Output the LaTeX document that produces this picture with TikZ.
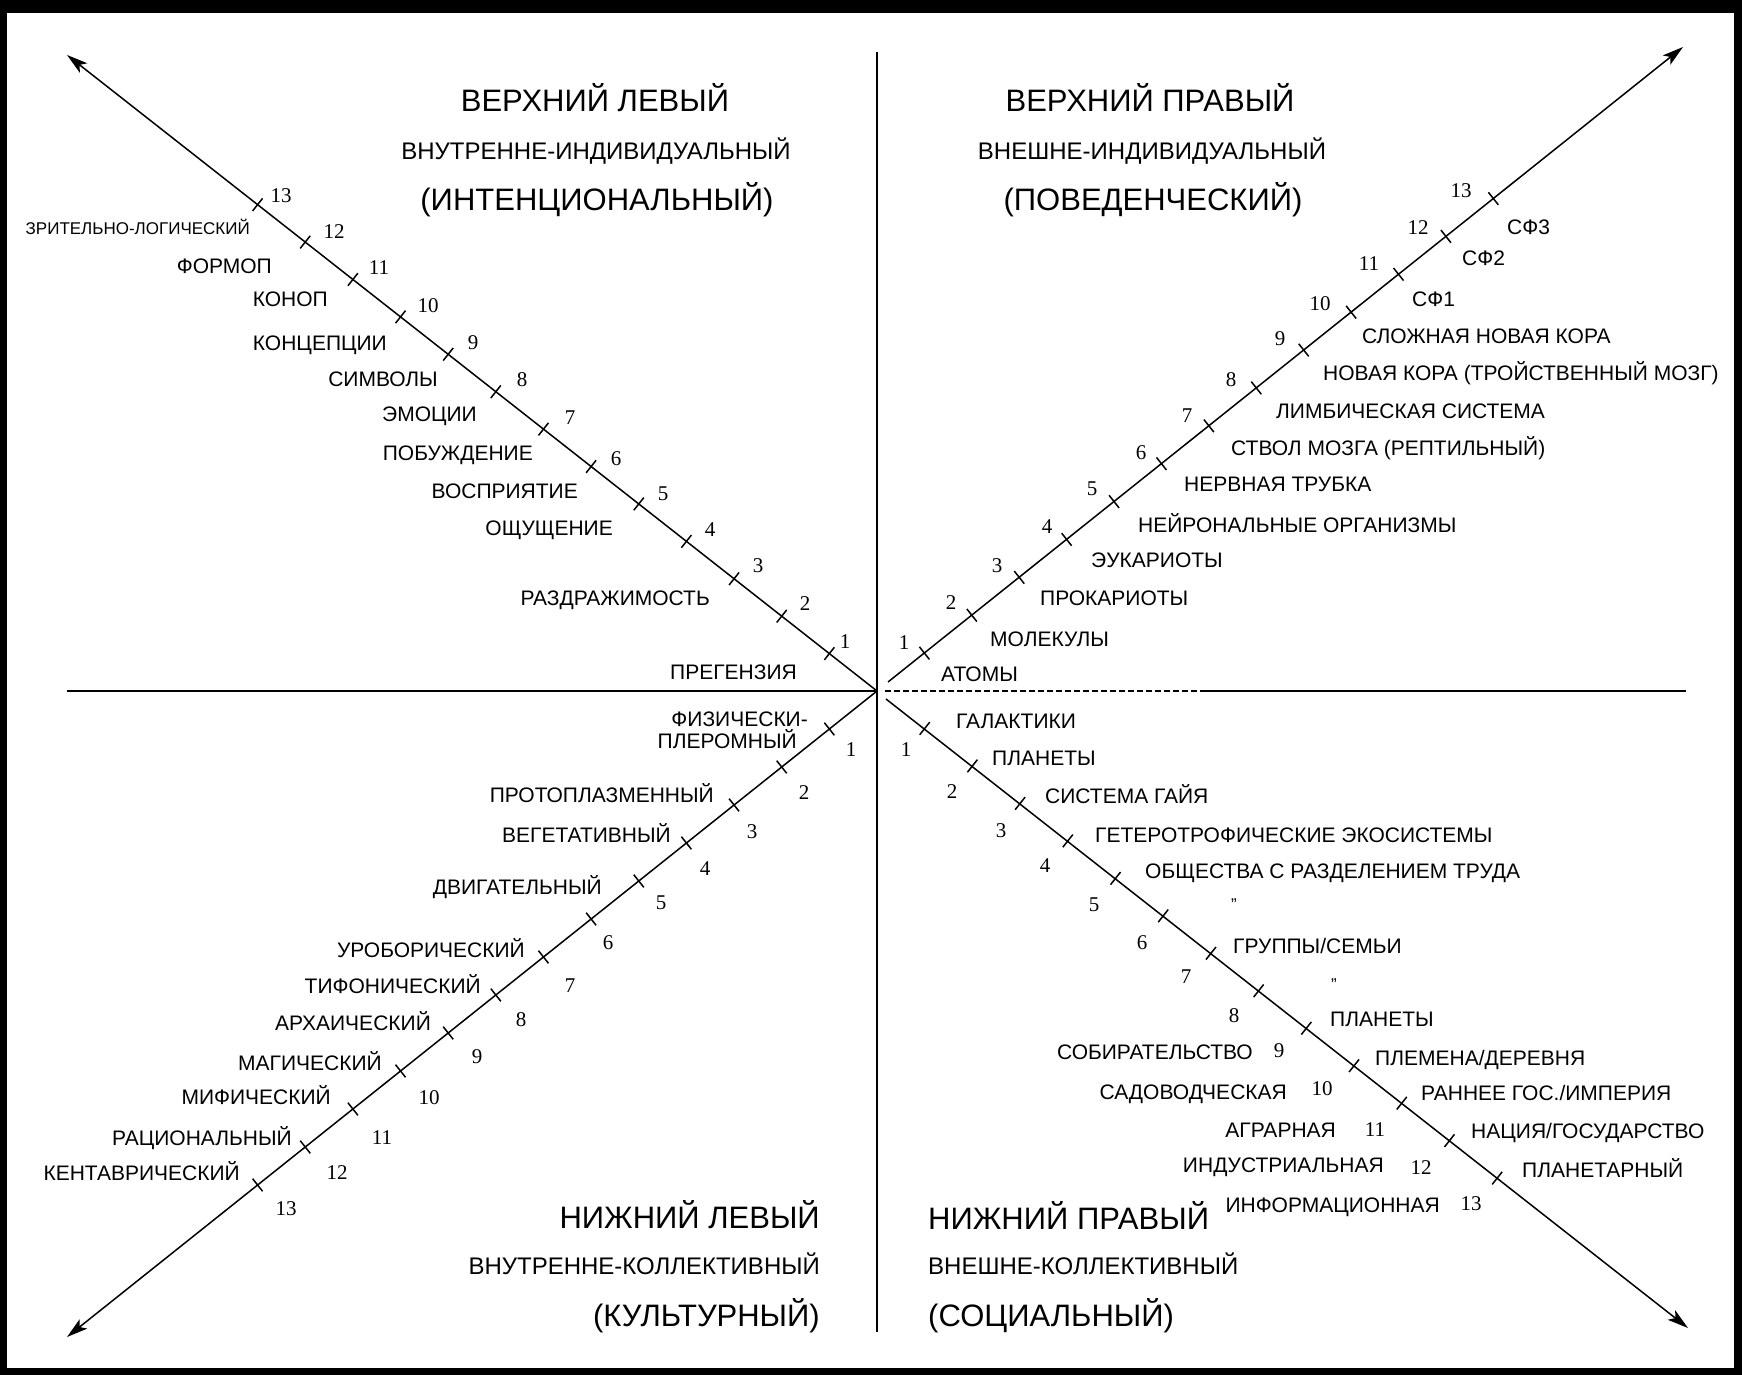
\documentclass[tikz,border=0pt]{standalone}
\usepackage{fontspec}
\setmainfont{Liberation Sans}
\newfontfamily\numfont{Liberation Serif}
\usetikzlibrary{arrows.meta,calc}

\begin{document}
\begin{tikzpicture}[x=1pt,y=1pt,yscale=-1,xscale=1,
    lbl/.style={font=\fontsize{21}{24}\selectfont, inner sep=0pt, text height=15pt, text depth=0pt},
    small/.style={font=\fontsize{17}{20}\selectfont, inner sep=0pt, text height=12pt, text depth=0pt},
    num/.style={font=\numfont\fontsize{21}{24}\selectfont, inner sep=0pt, text height=14pt, text depth=0pt},
    head/.style={font=\fontsize{31}{36}\selectfont, inner sep=0pt, text height=22pt, text depth=0pt},
    subhead/.style={font=\fontsize{24}{28}\selectfont, inner sep=0pt, text height=17pt, text depth=0pt},
    axis/.style={line width=1.8pt},
    diag/.style={line width=1.5pt, -{Stealth[length=21pt,width=12pt,inset=5pt]}},
    tick/.style={line width=1.5pt}]
    \useasboundingbox (0,0) rectangle (1742,1375);

    %Frame
    \fill [black] (0,0) rectangle (1742,1375);
    \fill [white] (7,13) rectangle (1734,1368);

    %Axis points
    \coordinate (o) at (877,691);
    \coordinate (ul) at (67,55);
    \coordinate (ur) at (1683,47);
    \coordinate (ll) at (67,1337);
    \coordinate (lr) at (1688,1328);
    \coordinate (urs) at (888,682);
    \coordinate (lrs) at (886,699);
    \coordinate (vt) at (877,52);
    \coordinate (vb) at (877,1332);
    \coordinate (hl) at (67,691);
    \coordinate (hs) at (885,691);
    \coordinate (hm) at (1205,691);
    \coordinate (hr) at (1686,691);

    %Straight Lines (vertical axis)
    \draw [axis] (vt) -- (vb);
    %Straight Lines (horizontal axis)
    \draw [axis] (hl) -- (o);
    \draw [axis, dash pattern=on 6pt off 3pt] (hs) -- (hm);
    \draw [axis] (hm) -- (hr);
    %Straight Lines (diagonals)
    \draw [diag] (o) -- (ul);
    \draw [diag] (urs) -- (ur);
    \draw [diag] (o) -- (ll);
    \draw [diag] (lrs) -- (lr);

    %Ticks upper left
    \draw [tick] ($(o)!1/17!(ul)$) ++(-5,6.3) -- ++(10,-12.6);
    \draw [tick] ($(o)!2/17!(ul)$) ++(-5,6.3) -- ++(10,-12.6);
    \draw [tick] ($(o)!3/17!(ul)$) ++(-5,6.3) -- ++(10,-12.6);
    \draw [tick] ($(o)!4/17!(ul)$) ++(-5,6.3) -- ++(10,-12.6);
    \draw [tick] ($(o)!5/17!(ul)$) ++(-5,6.3) -- ++(10,-12.6);
    \draw [tick] ($(o)!6/17!(ul)$) ++(-5,6.3) -- ++(10,-12.6);
    \draw [tick] ($(o)!7/17!(ul)$) ++(-5,6.3) -- ++(10,-12.6);
    \draw [tick] ($(o)!8/17!(ul)$) ++(-5,6.3) -- ++(10,-12.6);
    \draw [tick] ($(o)!9/17!(ul)$) ++(-5,6.3) -- ++(10,-12.6);
    \draw [tick] ($(o)!10/17!(ul)$) ++(-5,6.3) -- ++(10,-12.6);
    \draw [tick] ($(o)!11/17!(ul)$) ++(-5,6.3) -- ++(10,-12.6);
    \draw [tick] ($(o)!12/17!(ul)$) ++(-5,6.3) -- ++(10,-12.6);
    \draw [tick] ($(o)!13/17!(ul)$) ++(-5,6.3) -- ++(10,-12.6);
    %Ticks upper right
    \draw [tick] ($(o)!1/17!(ur)$) ++(-5,-6.3) -- ++(10,12.6);
    \draw [tick] ($(o)!2/17!(ur)$) ++(-5,-6.3) -- ++(10,12.6);
    \draw [tick] ($(o)!3/17!(ur)$) ++(-5,-6.3) -- ++(10,12.6);
    \draw [tick] ($(o)!4/17!(ur)$) ++(-5,-6.3) -- ++(10,12.6);
    \draw [tick] ($(o)!5/17!(ur)$) ++(-5,-6.3) -- ++(10,12.6);
    \draw [tick] ($(o)!6/17!(ur)$) ++(-5,-6.3) -- ++(10,12.6);
    \draw [tick] ($(o)!7/17!(ur)$) ++(-5,-6.3) -- ++(10,12.6);
    \draw [tick] ($(o)!8/17!(ur)$) ++(-5,-6.3) -- ++(10,12.6);
    \draw [tick] ($(o)!9/17!(ur)$) ++(-5,-6.3) -- ++(10,12.6);
    \draw [tick] ($(o)!10/17!(ur)$) ++(-5,-6.3) -- ++(10,12.6);
    \draw [tick] ($(o)!11/17!(ur)$) ++(-5,-6.3) -- ++(10,12.6);
    \draw [tick] ($(o)!12/17!(ur)$) ++(-5,-6.3) -- ++(10,12.6);
    \draw [tick] ($(o)!13/17!(ur)$) ++(-5,-6.3) -- ++(10,12.6);
    %Ticks lower left
    \draw [tick] ($(o)!1/17!(ll)$) ++(-5,-6.3) -- ++(10,12.6);
    \draw [tick] ($(o)!2/17!(ll)$) ++(-5,-6.3) -- ++(10,12.6);
    \draw [tick] ($(o)!3/17!(ll)$) ++(-5,-6.3) -- ++(10,12.6);
    \draw [tick] ($(o)!4/17!(ll)$) ++(-5,-6.3) -- ++(10,12.6);
    \draw [tick] ($(o)!5/17!(ll)$) ++(-5,-6.3) -- ++(10,12.6);
    \draw [tick] ($(o)!6/17!(ll)$) ++(-5,-6.3) -- ++(10,12.6);
    \draw [tick] ($(o)!7/17!(ll)$) ++(-5,-6.3) -- ++(10,12.6);
    \draw [tick] ($(o)!8/17!(ll)$) ++(-5,-6.3) -- ++(10,12.6);
    \draw [tick] ($(o)!9/17!(ll)$) ++(-5,-6.3) -- ++(10,12.6);
    \draw [tick] ($(o)!10/17!(ll)$) ++(-5,-6.3) -- ++(10,12.6);
    \draw [tick] ($(o)!11/17!(ll)$) ++(-5,-6.3) -- ++(10,12.6);
    \draw [tick] ($(o)!12/17!(ll)$) ++(-5,-6.3) -- ++(10,12.6);
    \draw [tick] ($(o)!13/17!(ll)$) ++(-5,-6.3) -- ++(10,12.6);
    %Ticks lower right
    \draw [tick] ($(o)!1/17!(lr)$) ++(-5,6.3) -- ++(10,-12.6);
    \draw [tick] ($(o)!2/17!(lr)$) ++(-5,6.3) -- ++(10,-12.6);
    \draw [tick] ($(o)!3/17!(lr)$) ++(-5,6.3) -- ++(10,-12.6);
    \draw [tick] ($(o)!4/17!(lr)$) ++(-5,6.3) -- ++(10,-12.6);
    \draw [tick] ($(o)!5/17!(lr)$) ++(-5,6.3) -- ++(10,-12.6);
    \draw [tick] ($(o)!6/17!(lr)$) ++(-5,6.3) -- ++(10,-12.6);
    \draw [tick] ($(o)!7/17!(lr)$) ++(-5,6.3) -- ++(10,-12.6);
    \draw [tick] ($(o)!8/17!(lr)$) ++(-5,6.3) -- ++(10,-12.6);
    \draw [tick] ($(o)!9/17!(lr)$) ++(-5,6.3) -- ++(10,-12.6);
    \draw [tick] ($(o)!10/17!(lr)$) ++(-5,6.3) -- ++(10,-12.6);
    \draw [tick] ($(o)!11/17!(lr)$) ++(-5,6.3) -- ++(10,-12.6);
    \draw [tick] ($(o)!12/17!(lr)$) ++(-5,6.3) -- ++(10,-12.6);
    \draw [tick] ($(o)!13/17!(lr)$) ++(-5,6.3) -- ++(10,-12.6);

    % Text Node (headers)
    \draw (595,101) node [head] (ulHead) {ВЕРХНИЙ ЛЕВЫЙ};
    \draw (596,151) node [subhead] (ulSub) {ВНУТРЕННЕ-ИНДИВИДУАЛЬНЫЙ};
    \draw (597,200) node [head] (ulPar) {(ИНТЕНЦИОНАЛЬНЫЙ)};
    \draw (1150,101) node [head] (urHead) {ВЕРХНИЙ ПРАВЫЙ};
    \draw (1152,151) node [subhead] (urSub) {ВНЕШНЕ-ИНДИВИДУАЛЬНЫЙ};
    \draw (1153,200) node [head] (urPar) {(ПОВЕДЕНЧЕСКИЙ)};
    \draw (820,1217) node [head, anchor=east] (llHead) {НИЖНИЙ ЛЕВЫЙ};
    \draw (820,1266) node [subhead, anchor=east] (llSub) {ВНУТРЕННЕ-КОЛЛЕКТИВНЫЙ};
    \draw (820,1315) node [head, anchor=east] (llPar) {(КУЛЬТУРНЫЙ)};
    \draw (928,1218) node [head, anchor=west] (lrHead) {НИЖНИЙ ПРАВЫЙ};
    \draw (928,1266) node [subhead, anchor=west] (lrSub) {ВНЕШНЕ-КОЛЛЕКТИВНЫЙ};
    \draw (928,1315) node [head, anchor=west] (lrPar) {(СОЦИАЛЬНЫЙ)};

    % Text Node (upper left levels)
    \draw (797,672) node [lbl, anchor=east] (ul1t) {ПРЕГЕНЗИЯ};
    \draw (710,598) node [lbl, anchor=east] (ul2t) {РАЗДРАЖИМОСТЬ};
    \draw (613,528) node [lbl, anchor=east] (ul4t) {ОЩУЩЕНИЕ};
    \draw (578,491) node [lbl, anchor=east] (ul5t) {ВОСПРИЯТИЕ};
    \draw (533,453) node [lbl, anchor=east] (ul6t) {ПОБУЖДЕНИЕ};
    \draw (477,414) node [lbl, anchor=east] (ul7t) {ЭМОЦИИ};
    \draw (438,379) node [lbl, anchor=east] (ul8t) {СИМВОЛЫ};
    \draw (387,343) node [lbl, anchor=east] (ul9t) {КОНЦЕПЦИИ};
    \draw (328,299) node [lbl, anchor=east] (ul10t) {КОНОП};
    \draw (272,266) node [lbl, anchor=east] (ul11t) {ФОРМОП};
    \draw (250,228) node [small, anchor=east] (ul12t) {ЗРИТЕЛЬНО-ЛОГИЧЕСКИЙ};
    % Text Node (upper left numbers)
    \draw (845,641) node [num] (ul1n) {1};
    \draw (805,603) node [num] (ul2n) {2};
    \draw (758,565) node [num] (ul3n) {3};
    \draw (710,529) node [num] (ul4n) {4};
    \draw (663,493) node [num] (ul5n) {5};
    \draw (616,458) node [num] (ul6n) {6};
    \draw (570,417) node [num] (ul7n) {7};
    \draw (522,379) node [num] (ul8n) {8};
    \draw (473,342) node [num] (ul9n) {9};
    \draw (428,305) node [num] (ul10n) {10};
    \draw (379,267) node [num] (ul11n) {11};
    \draw (334,231) node [num] (ul12n) {12};
    \draw (281,196) node [num] (ul13n) {13};

    % Text Node (upper right levels)
    \draw (941,674) node [lbl, anchor=west] (ur1t) {АТОМЫ};
    \draw (990,639) node [lbl, anchor=west] (ur2t) {МОЛЕКУЛЫ};
    \draw (1040,598) node [lbl, anchor=west] (ur3t) {ПРОКАРИОТЫ};
    \draw (1091,560) node [lbl, anchor=west] (ur4t) {ЭУКАРИОТЫ};
    \draw (1138,525) node [lbl, anchor=west] (ur5t) {НЕЙРОНАЛЬНЫЕ ОРГАНИЗМЫ};
    \draw (1184,484) node [lbl, anchor=west] (ur6t) {НЕРВНАЯ ТРУБКА};
    \draw (1231,448) node [lbl, anchor=west] (ur7t) {СТВОЛ МОЗГА (РЕПТИЛЬНЫЙ)};
    \draw (1276,411) node [lbl, anchor=west] (ur8t) {ЛИМБИЧЕСКАЯ СИСТЕМА};
    \draw (1323,373) node [lbl, anchor=west] (ur9t) {НОВАЯ КОРА (ТРОЙСТВЕННЫЙ МОЗГ)};
    \draw (1362,336) node [lbl, anchor=west] (ur10t) {СЛОЖНАЯ НОВАЯ КОРА};
    \draw (1412,299) node [lbl, anchor=west] (ur11t) {СФ1};
    \draw (1462,258) node [lbl, anchor=west] (ur12t) {СФ2};
    \draw (1507,227) node [lbl, anchor=west] (ur13t) {СФ3};
    % Text Node (upper right numbers)
    \draw (904,642) node [num] (ur1n) {1};
    \draw (951,602) node [num] (ur2n) {2};
    \draw (997,565) node [num] (ur3n) {3};
    \draw (1047,526) node [num] (ur4n) {4};
    \draw (1092,488) node [num] (ur5n) {5};
    \draw (1141,452) node [num] (ur6n) {6};
    \draw (1187,415) node [num] (ur7n) {7};
    \draw (1231,379) node [num] (ur8n) {8};
    \draw (1280,338) node [num] (ur9n) {9};
    \draw (1320,303) node [num] (ur10n) {10};
    \draw (1369,263) node [num] (ur11n) {11};
    \draw (1418,227) node [num] (ur12n) {12};
    \draw (1461,190) node [num] (ur13n) {13};

    % Text Node (lower left levels)
    \draw (808,719) node [lbl, anchor=east] (ll1t) {ФИЗИЧЕСКИ-};
    \draw (797,741) node [lbl, anchor=east] (ll1u) {ПЛЕРОМНЫЙ};
    \draw (714,795) node [lbl, anchor=east] (ll2t) {ПРОТОПЛАЗМЕННЫЙ};
    \draw (671,835) node [lbl, anchor=east] (ll3t) {ВЕГЕТАТИВНЫЙ};
    \draw (602,887) node [lbl, anchor=east] (ll5t) {ДВИГАТЕЛЬНЫЙ};
    \draw (525,950) node [lbl, anchor=east] (ll7t) {УРОБОРИЧЕСКИЙ};
    \draw (481,986) node [lbl, anchor=east] (ll8t) {ТИФОНИЧЕСКИЙ};
    \draw (431,1023) node [lbl, anchor=east] (ll9t) {АРХАИЧЕСКИЙ};
    \draw (382,1063) node [lbl, anchor=east] (ll10t) {МАГИЧЕСКИЙ};
    \draw (331,1097) node [lbl, anchor=east] (ll11t) {МИФИЧЕСКИЙ};
    \draw (292,1138) node [lbl, anchor=east] (ll12t) {РАЦИОНАЛЬНЫЙ};
    \draw (240,1173) node [lbl, anchor=east] (ll13t) {КЕНТАВРИЧЕСКИЙ};
    % Text Node (lower left numbers)
    \draw (851,749) node [num] (ll1n) {1};
    \draw (804,792) node [num] (ll2n) {2};
    \draw (752,831) node [num] (ll3n) {3};
    \draw (705,868) node [num] (ll4n) {4};
    \draw (661,902) node [num] (ll5n) {5};
    \draw (608,942) node [num] (ll6n) {6};
    \draw (570,985) node [num] (ll7n) {7};
    \draw (521,1019) node [num] (ll8n) {8};
    \draw (477,1056) node [num] (ll9n) {9};
    \draw (429,1097) node [num] (ll10n) {10};
    \draw (382,1137) node [num] (ll11n) {11};
    \draw (337,1172) node [num] (ll12n) {12};
    \draw (286,1208) node [num] (ll13n) {13};

    % Text Node (lower right levels)
    \draw (956,721) node [lbl, anchor=west] (lr1t) {ГАЛАКТИКИ};
    \draw (992,758) node [lbl, anchor=west] (lr2t) {ПЛАНЕТЫ};
    \draw (1045,796) node [lbl, anchor=west] (lr3t) {СИСТЕМА ГАЙЯ};
    \draw (1095,835) node [lbl, anchor=west] (lr4t) {ГЕТЕРОТРОФИЧЕСКИЕ ЭКОСИСТЕМЫ};
    \draw (1145,871) node [lbl, anchor=west] (lr5t) {ОБЩЕСТВА С РАЗДЕЛЕНИЕМ ТРУДА};
    \draw (1234,904) node [small] (lr6q) {"};
    \draw (1233,946) node [lbl, anchor=west] (lr7t) {ГРУППЫ/СЕМЬИ};
    \draw (1334,984) node [small] (lr8q) {"};
    \draw (1330,1019) node [lbl, anchor=west] (lr9t) {ПЛАНЕТЫ};
    \draw (1375,1058) node [lbl, anchor=west] (lr10t) {ПЛЕМЕНА/ДЕРЕВНЯ};
    \draw (1421,1093) node [lbl, anchor=west] (lr11t) {РАННЕЕ ГОС./ИМПЕРИЯ};
    \draw (1471,1131) node [lbl, anchor=west] (lr12t) {НАЦИЯ/ГОСУДАРСТВО};
    \draw (1522,1170) node [lbl, anchor=west] (lr13t) {ПЛАНЕТАРНЫЙ};
    \draw (1253,1052) node [lbl, anchor=east] (lr9s) {СОБИРАТЕЛЬСТВО};
    \draw (1287,1092) node [lbl, anchor=east] (lr10s) {САДОВОДЧЕСКАЯ};
    \draw (1336,1130) node [lbl, anchor=east] (lr11s) {АГРАРНАЯ};
    \draw (1384,1165) node [lbl, anchor=east] (lr12s) {ИНДУСТРИАЛЬНАЯ};
    \draw (1440,1205) node [lbl, anchor=east] (lr13s) {ИНФОРМАЦИОННАЯ};
    % Text Node (lower right numbers)
    \draw (906,749) node [num] (lr1n) {1};
    \draw (952,791) node [num] (lr2n) {2};
    \draw (1001,830) node [num] (lr3n) {3};
    \draw (1045,865) node [num] (lr4n) {4};
    \draw (1094,904) node [num] (lr5n) {5};
    \draw (1142,942) node [num] (lr6n) {6};
    \draw (1186,976) node [num] (lr7n) {7};
    \draw (1234,1015) node [num] (lr8n) {8};
    \draw (1279,1050) node [num] (lr9n) {9};
    \draw (1322,1088) node [num] (lr10n) {10};
    \draw (1375,1129) node [num] (lr11n) {11};
    \draw (1421,1167) node [num] (lr12n) {12};
    \draw (1471,1203) node [num] (lr13n) {13};

\end{tikzpicture}
\end{document}
